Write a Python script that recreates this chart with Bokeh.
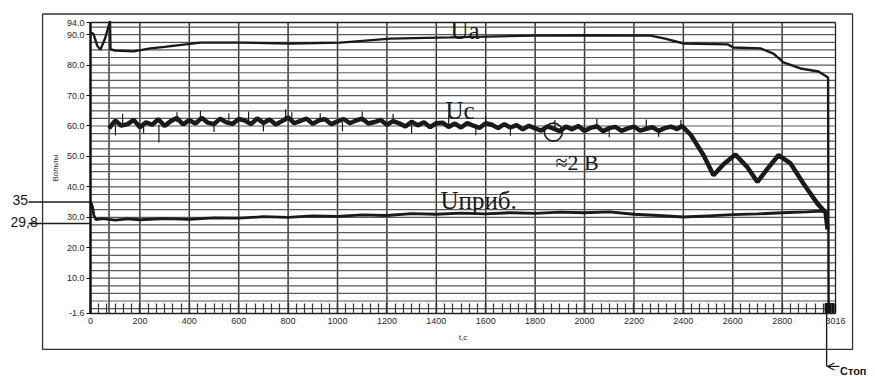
from bokeh.plotting import figure
from bokeh.models import FixedTicker, NumeralTickFormatter, Label, Arrow, OpenHead
from bokeh.embed import file_html
from bokeh.resources import INLINE

# ---------------- data ----------------
x_ticks = [0, 200, 400, 600, 800, 1000, 1200, 1400, 1600, 1800, 2000, 2200, 2400, 2600, 2800, 3016]
y_ticks = [-1.6, 10.0, 20.0, 30.0, 40.0, 50.0, 60.0, 70.0, 80.0, 90.0, 94.0]
t_min, t_max = 0, 3016
v_min, v_max = -1.6, 94.0

ua_t = [0, 12, 27, 40, 60, 79, 81, 100, 174, 243, 300, 445, 607, 810, 1012, 1214, 1457,
        1793, 2000, 2267, 2330, 2401, 2579, 2603, 2712, 2765, 2805, 2874, 2947, 2986, 2988]
ua_v = [90.6, 90.3, 86.4, 85.0, 89.0, 94.5, 85.2, 84.8, 84.5, 85.5, 86.0, 87.4, 87.4,
        87.1, 87.4, 88.7, 89.1, 89.7, 89.8, 89.7, 88.6, 87.1, 86.8, 85.8, 85.5, 83.8,
        80.9, 78.9, 77.9, 75.9, -1.6]

uc_start, uc_step = 75, 25
uc_noisy = [59.2, 61.8, 60.1, 60.6, 62.0, 59.6, 61.2, 60.4, 62.2, 60.0,
            61.6, 62.6, 60.5, 61.9, 60.8, 62.7, 61.1, 60.6, 62.4, 61.2,
            60.7, 62.3, 61.8, 60.6, 62.5, 61.0, 62.1, 60.5, 61.6, 62.8,
            60.9, 61.7, 62.4, 60.7, 61.9, 62.2, 60.6, 61.5, 62.3, 60.9,
            61.8, 62.4, 60.8, 61.3, 62.0, 60.4, 61.6, 60.9, 59.8, 61.4,
            60.2, 61.2, 59.6, 60.9, 61.1, 59.7, 60.8, 59.5, 61.0, 60.1,
            59.4, 60.9, 60.4, 59.3, 60.6, 59.5, 60.3, 58.9, 60.1, 59.2,
            58.5, 59.9, 59.1, 58.3, 59.8, 58.9, 60.0, 58.4, 59.4, 59.9,
            58.3, 59.3, 59.7, 58.4, 59.2, 59.8, 58.5, 59.1, 59.6, 58.4,
            59.3, 59.8, 59.0]
uc_tail_t = [2395, 2429, 2482, 2522, 2563, 2611, 2660, 2700, 2741, 2785, 2834, 2886, 2943, 2976, 2984]
uc_tail_v = [60.0, 57.2, 50.4, 43.8, 47.4, 50.6, 46.4, 41.6, 46.0, 50.4, 47.7, 41.1, 34.5, 31.6, 26.0]

# short noise spikes on Uc
spike_t = [101, 130, 215, 277, 350, 445, 500, 560, 640, 700, 790, 815, 930, 1020, 1100,
           1225, 1300, 1450, 1560, 1600, 1700, 1880, 2050, 2100, 2250, 2300, 2390]
spike_lo = [56.9, 61.0, 57.5, 54.6, 61.3, 61.5, 58.0, 61.4, 61.5, 58.2, 61.5, 61.5, 61.3, 58.3, 61.4,
            61.0, 57.5, 60.3, 57.0, 60.2, 56.8, 59.1, 59.1, 56.3, 59.0, 56.5, 59.0]
spike_hi = [60.5, 64.0, 60.5, 60.5, 64.5, 65.0, 61.5, 64.2, 64.8, 61.5, 65.5, 64.5, 64.2, 61.3, 64.8,
            64.0, 60.5, 63.5, 60.3, 63.2, 60.0, 62.0, 62.3, 59.2, 62.1, 59.1, 62.0]

up_t = [0, 8, 14, 22, 50, 100, 150, 200, 300, 400, 500, 600, 700, 800, 900, 1000, 1100,
        1200, 1300, 1400, 1500, 1600, 1700, 1800, 1900, 2000, 2100, 2200, 2300, 2400,
        2500, 2600, 2700, 2800, 2900, 2960, 2978, 2984]
up_v = [35.2, 33.5, 30.5, 29.2, 29.6, 29.1, 29.5, 29.2, 29.6, 29.3, 29.8, 29.7, 30.2,
        30.0, 30.5, 30.3, 30.8, 30.6, 31.2, 31.0, 31.4, 31.1, 31.5, 31.3, 31.7, 31.5,
        31.8, 31.0, 30.6, 30.1, 30.5, 30.9, 31.1, 31.5, 31.8, 32.0, 31.6, 28.0]

mark_35 = 35.0
mark_298 = 28.0
stop_t = 2980
note_t, note_v = 1874, 58.0

uc_t = [uc_start + i * uc_step for i in range(len(uc_noisy))] + uc_tail_t
uc_v = uc_noisy + uc_tail_v

# grid positions
grid_x = [75] + list(range(200, 3000, 200))
grid_y = [i * 2.5 for i in range(0, 38)]

# ---------------- figure ----------------
INK = "#1a1a1a"
p = figure(width=875, height=377, x_range=(-364.3, 3177.9), y_range=(-22.63, 101.23),
           output_backend="svg", toolbar_location=None,
           min_border_left=0, min_border_right=0, min_border_top=0, min_border_bottom=0)
p.background_fill_color = "white"
p.border_fill_color = "white"
p.outline_line_color = None
p.grid.visible = False

# axes, placed at the data edges of the chart
p.yaxis.fixed_location = t_min
p.xaxis.fixed_location = v_min
p.yaxis.bounds = (v_min, v_max)
p.xaxis.bounds = (t_min, t_max)
p.yaxis.ticker = FixedTicker(ticks=y_ticks)
p.yaxis.formatter = NumeralTickFormatter(format="0.0")
p.xaxis.ticker = FixedTicker(ticks=x_ticks, minor_ticks=[k * 200 / 6 for k in range(0, 91)])
for ax in (p.xaxis, p.yaxis):
    ax.major_label_text_font = "Liberation Sans"
    ax.major_label_text_font_size = "9px"
    ax.major_label_text_color = "#2a2a2a"
    ax.axis_label_text_font = "Liberation Sans"
    ax.axis_label_text_font_size = "8px"
    ax.axis_label_text_font_style = "normal"
    ax.axis_label_text_color = "#2a2a2a"
p.yaxis.axis_label = "Вольты"
p.yaxis.axis_line_width = 2.5
p.yaxis.axis_line_color = "#111111"
p.yaxis.major_tick_out = 4
p.yaxis.major_tick_in = 0
p.yaxis.minor_tick_line_color = None
p.yaxis.major_label_standoff = 2
p.yaxis.axis_label_standoff = 4
p.xaxis.axis_label = "t,c"
p.xaxis.axis_line_width = 1.5
p.xaxis.axis_line_color = "#222222"
p.xaxis.major_tick_in = 10
p.xaxis.major_tick_out = 0
p.xaxis.minor_tick_in = 10
p.xaxis.minor_tick_out = 0
p.xaxis.minor_tick_line_color = "#333333"
p.xaxis.minor_tick_line_width = 1.2
p.xaxis.major_tick_line_width = 1.2
p.xaxis.major_label_standoff = 5
p.xaxis.axis_label_standoff = 5

# grid of the chart
p.segment(x0=grid_x, y0=v_min, x1=grid_x, y1=v_max, line_color="#3a3a3a", line_width=1.5)
p.segment(x0=t_min, y0=grid_y, x1=t_max, y1=grid_y, line_color="#5a5a5a", line_width=1.2)
p.segment(x0=[t_min, t_max], y0=[v_max, v_min], x1=[t_max, t_max], y1=[v_max, v_max],
          line_color="#222222", line_width=1.3)

# outer frame of the scanned figure
p.quad(left=-194, right=3085, top=96.8, bottom=-13.4, fill_color=None,
       line_color="#333333", line_width=1.3)

# series
p.line(ua_t, ua_v, line_width=2.4, color=INK)
p.segment(x0=spike_t, y0=spike_lo, x1=spike_t, y1=spike_hi, line_width=1.2, color=INK)
p.line(uc_t, uc_v, line_width=4.5, color=INK)
p.line(up_t, up_v, line_width=2.8, color=INK)

# hand annotations
p.scatter([note_t], [note_v], marker="circle", size=18, fill_color=None, line_color=INK, line_width=1.6)
p.scatter([2992], [0.2], marker="square", size=9, color="#111111")
p.segment(x0=[-251, -251], y0=[mark_35, mark_298], x1=[0, 0], y1=[mark_35, mark_298],
          line_color=INK, line_width=1.5)
p.segment(x0=[stop_t], y0=[v_min], x1=[stop_t], y1=[-19.0], line_color=INK, line_width=1.4)
p.add_layout(Arrow(x_start=3032, y_start=-19.0, x_end=stop_t + 3, y_end=-19.0,
                   end=OpenHead(size=7, line_color=INK, line_width=1.2),
                   line_color=INK, line_width=1.2))


def lab(x, y, text, size, font="Liberation Serif", style="normal"):
    p.add_layout(Label(x=x, y=y, text=text, text_font=font, text_font_size=size,
                       text_color=INK, text_align="left", text_baseline="alphabetic",
                       text_font_style=style))


lab(1457, 91.4, "Ua", "25px")
lab(1437, 65.1, "Uc", "25px")
lab(1417, 35.5, "Uприб.", "25px")
lab(1882, 48.0, "≈2 В", "22px")
lab(-316, 35.85, "35", "14px", font="Liberation Sans")
lab(-324, 28.6, "29,8", "14px", font="Liberation Sans")
lab(3034, -20.6, "Стоп", "11px", font="Liberation Sans", style="bold")

open("out.html", "w").write(file_html(p, INLINE))
